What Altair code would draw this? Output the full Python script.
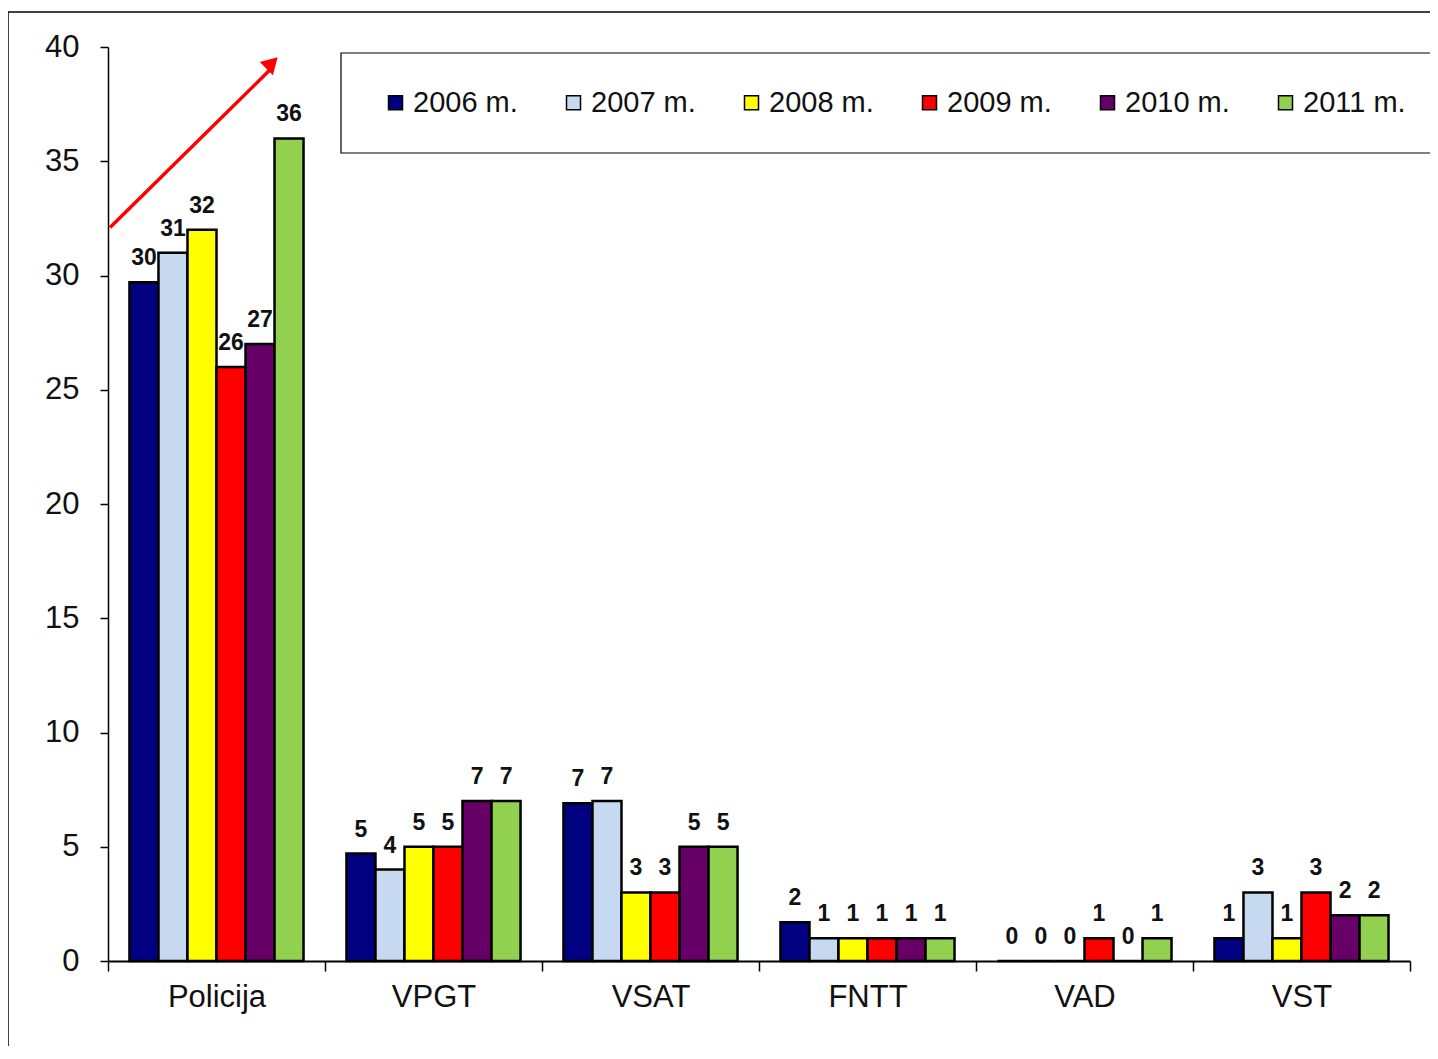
import altair as alt
import pandas as pd

categories = ["Policija", "VPGT", "VSAT", "FNTT", "VAD", "VST"]
years = ["2006 m.", "2007 m.", "2008 m.", "2009 m.", "2010 m.", "2011 m."]
v2006 = [29.7, 4.7, 6.9, 1.7, 0, 1]
v2007 = [31, 4, 7, 1, 0, 3]
v2008 = [32, 5, 3, 1, 0, 1]
v2009 = [26, 5, 3, 1, 1, 3]
v2010 = [27, 7, 5, 1, 0, 2]
v2011 = [36, 7, 5, 1, 1, 2]
colors = ["#000080", "#C6D9F1", "#FFFF00", "#FF0000", "#660066", "#92D050"]
y_ticks = [0, 5, 10, 15, 20, 25, 30, 35, 40]

series = [v2006, v2007, v2008, v2009, v2010, v2011]
rows = []
for yr, vals in zip(years, series):
    for cat, v in zip(categories, vals):
        rows.append({"cat": cat, "year": yr, "value": v})
df = pd.DataFrame(rows)

W, H = 1302, 914
FONT = "Liberation Sans"

x_enc = alt.X("cat:N", sort=categories,
              scale=alt.Scale(paddingInner=0, paddingOuter=0),
              axis=alt.Axis(title=None, labelAngle=0, tickBand="extent", tickSize=10,
                            labelFontSize=31, labelFont=FONT, labelColor="#111",
                            labelPadding=11, domainColor="black", domainWidth=2,
                            tickColor="black", tickWidth=1.5))
xo_enc = alt.XOffset("year:N", sort=years, scale=alt.Scale(paddingInner=0, paddingOuter=0.74))
y_scale = alt.Scale(domain=[0, 40], nice=False)

bars = alt.Chart(df).mark_bar(stroke="black", strokeWidth=2.5).encode(
    x=x_enc,
    xOffset=xo_enc,
    y=alt.Y("value:Q", scale=y_scale,
            axis=alt.Axis(title=None, values=y_ticks, grid=False, tickSize=8,
                          labelFontSize=31, labelFont=FONT, labelColor="#111",
                          labelPadding=21, domainColor="black", domainWidth=1.5,
                          tickColor="black", tickWidth=1.5)),
    color=alt.Color("year:N", sort=years,
                    scale=alt.Scale(domain=years, range=colors),
                    legend=alt.Legend(title=None, orient="none", direction="horizontal",
                                      legendX=273, legendY=41, columns=6,
                                      symbolType="square", symbolSize=196,
                                      symbolStrokeColor="black", symbolStrokeWidth=1.5,
                                      symbolOpacity=1,
                                      labelFontSize=29, labelFont=FONT,
                                      labelColor="#111", labelOffset=3,
                                      columnPadding=41, padding=0)),
)

labels = alt.Chart(df).mark_text(baseline="bottom", dy=-12, fontSize=23, fontWeight="bold",
                                 font=FONT, color="#111").encode(
    x=alt.X("cat:N", sort=categories),
    xOffset=alt.XOffset("year:N", sort=years),
    y=alt.Y("value:Q", scale=y_scale),
    text=alt.Text("value:Q", format=".0f"),
)

legend_box = alt.Chart(pd.DataFrame({"k": [0]})).mark_rect(
    fill="white", stroke="black", strokeWidth=1.2).encode(
    x=alt.value(233), x2=alt.value(1340), y=alt.value(6), y2=alt.value(106))

frame_left = alt.Chart(pd.DataFrame({"k": [0]})).mark_rule(color="black", strokeWidth=1.5).encode(
    x=alt.value(-100), y=alt.value(-35), y2=alt.value(1020))
frame_top = alt.Chart(pd.DataFrame({"k": [0]})).mark_rule(color="black", strokeWidth=1.5).encode(
    x=alt.value(-100), x2=alt.value(1340), y=alt.value(-35))

arrow_df = pd.DataFrame({"y0": [32.1], "y1": [39.0], "tip": [39.3]})
arrow_shaft = alt.Chart(arrow_df).mark_rule(color="#FF0000", strokeWidth=3.5).encode(
    x=alt.value(2), x2=alt.value(162),
    y=alt.Y("y0:Q", scale=y_scale), y2="y1:Q")
arrow_head = alt.Chart(arrow_df).mark_point(shape="triangle-up", filled=True, color="#FF0000",
                                            opacity=1, size=340, angle=45).encode(
    x=alt.value(164), y=alt.Y("tip:Q", scale=y_scale))

chart = alt.layer(legend_box, frame_left, frame_top, bars, labels, arrow_shaft, arrow_head).properties(
    width=W, height=H,
    autosize=alt.AutoSizeParams(type="none"),
    padding={"left": 100, "top": 39, "right": 20, "bottom": 85},
).configure(background="white").configure_view(strokeWidth=0)

chart.save("out.html", embed_options={"renderer": "svg", "actions": False})
